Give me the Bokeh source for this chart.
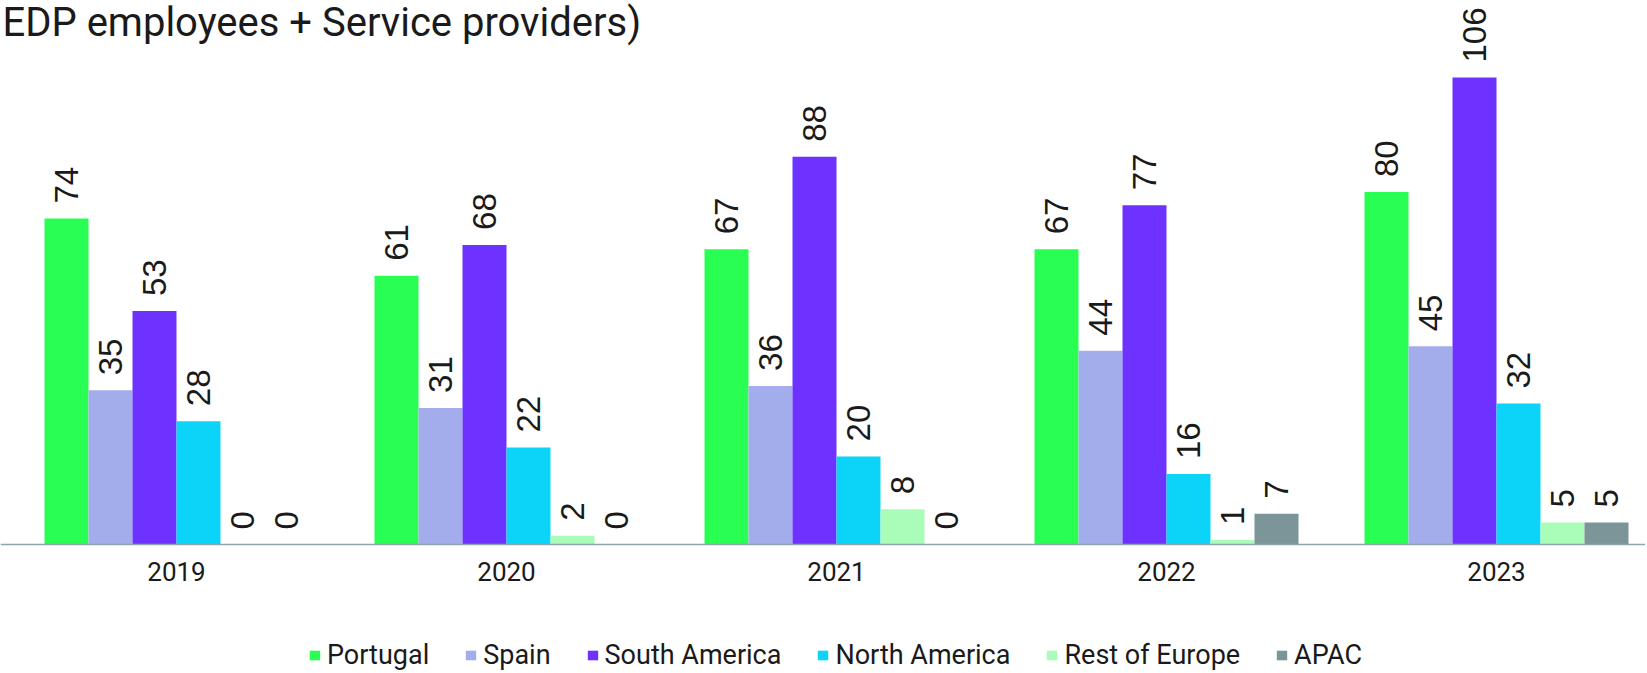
import math
from bokeh.plotting import figure
from bokeh.models import (ColumnDataSource, Range1d, Label, Legend, LegendItem, Span)
from bokeh.core.properties import value
from bokeh.embed import file_html
from bokeh.resources import INLINE

# ---- data ----
years = ["2019", "2020", "2021", "2022", "2023"]
series_names = ["Portugal", "Spain", "South America", "North America", "Rest of Europe", "APAC"]
portugal = [74, 61, 67, 67, 80]
spain = [35, 31, 36, 44, 45]
south_america = [53, 68, 88, 77, 106]
north_america = [28, 22, 20, 16, 32]
rest_of_europe = [0, 2, 8, 1, 5]
apac = [0, 0, 0, 7, 5]
colors = ["#28FF52", "#A3ADEB", "#6D32FF", "#0CD3F8", "#A9FDB8", "#7C9599"]
title_text = "EDP employees + Service providers)"

series = [portugal, spain, south_america, north_america, rest_of_europe, apac]

PITCH = 330.0          # px per category
BAR_W = 44 / PITCH
PX_PER_UNIT = 4.405
LEFT_PAD = 11
W = 1645
H = 673
BASE_Y = 544           # baseline position from top
FONT = "Roboto"
TXT = "#1a1a1a"

p = figure(width=W, height=H,
           min_border_left=0, min_border_right=0, min_border_top=0, min_border_bottom=0,
           x_range=Range1d(-LEFT_PAD / PITCH, (W - LEFT_PAD) / PITCH),
           y_range=Range1d(-(H - BASE_Y) / PX_PER_UNIT, BASE_Y / PX_PER_UNIT),
           output_backend="svg", toolbar_location=None,
           x_axis_location=None, y_axis_location=None,
           outline_line_color=None)
p.xgrid.visible = False
p.ygrid.visible = False

centers = [i + 0.5 for i in range(len(years))]
renderers = []
for k, (name, vals, col) in enumerate(zip(series_names, series, colors)):
    xs = [c + (k - 2.5) * BAR_W for c in centers]
    src = ColumnDataSource(dict(x=xs, top=vals, lab=[str(v) for v in vals]))
    r = p.vbar(x="x", top="top", width=BAR_W, source=src, fill_color=col, line_color=None)
    renderers.append(r)
    p.text(x="x", y="top", text="lab", source=src, angle=math.pi / 2,
           text_align="left", text_baseline="middle", y_offset=-15,
           text_font=value("Liberation Sans"), text_font_size="33px", text_color=TXT)

# category axis: baseline + year labels
p.add_layout(Span(location=0, dimension="width", line_color="#8FA5AC", line_width=1.5))
ysrc = ColumnDataSource(dict(x=centers, y=[0] * len(years), t=years))
p.text(x="x", y="y", text="t", source=ysrc, text_align="center", text_baseline="middle",
       y_offset=27, text_font=value(FONT), text_font_size="26px", text_color=TXT)

p.add_layout(Label(x=2, y=H - 22, x_units="screen", y_units="screen", text=title_text,
                   text_font=FONT, text_font_size="40px", text_color=TXT,
                   text_baseline="middle", text_align="left"))

legend = Legend(items=[LegendItem(label=n, renderers=[r]) for n, r in zip(series_names, renderers)],
                orientation="horizontal", location=(308, 2),
                label_text_font=FONT, label_text_font_size="27px", label_text_color=TXT,
                glyph_width=13, glyph_height=12, label_standoff=6, spacing=35,
                label_height=32, border_line_color=None, background_fill_alpha=0,
                padding=0, margin=0)
p.add_layout(legend, "center")

open("out.html", "w").write(file_html(p, INLINE))
